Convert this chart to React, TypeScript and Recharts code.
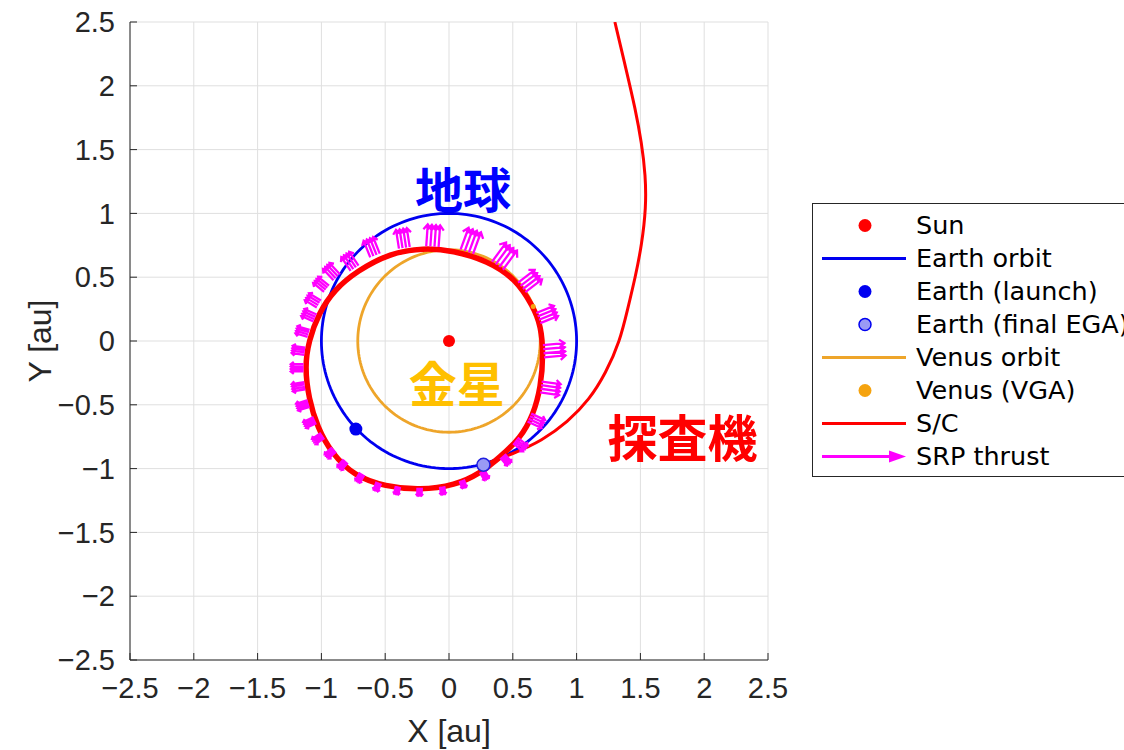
import React from "react"
import {
  ComposedChart,
  Line,
  Scatter,
  XAxis,
  YAxis,
  CartesianGrid,
  Legend,
  Label,
} from "recharts"

// axis ticks (au)
const AXIS_TICKS = [-2.5, -2, -1.5, -1, -0.5, 0, 0.5, 1, 1.5, 2, 2.5]

// planetary orbit radii (au)
const earthOrbitRadius = 1.0
const venusOrbitRadius = 0.715

// event positions (au)
const sunPos = [{ x: 0, y: 0 }]
const earthLaunchPos = [{ x: -0.73, y: -0.69 }]
const earthFinalEgaPos = [{ x: 0.27, y: -0.97 }]
const venusVgaPos = [{ x: 0.66, y: 0.27 }]

// spacecraft: repeated loop inside Earth orbit
const loopX = [0.24, 0.4, 0.56, 0.66, 0.72, 0.74, 0.72, 0.66, 0.52, 0.3, 0.03, -0.2, -0.46, -0.72, -0.9, -1.02, -1.1, -1.13, -1.1, -1.03, -0.92, -0.74, -0.5, -0.23, 0.05, 0.24, 0.4]
const loopY = [-1.04, -0.91, -0.76, -0.58, -0.36, -0.1, 0.12, 0.27, 0.49, 0.63, 0.71, 0.73, 0.69, 0.55, 0.4, 0.22, 0.0, -0.2, -0.45, -0.68, -0.88, -1.06, -1.14, -1.17, -1.13, -1.04, -0.91]

// spacecraft: escape after final Earth swing-by
const escapeX = [0.27, 0.5, 0.73, 0.93, 1.1, 1.23, 1.34, 1.4, 1.46, 1.51, 1.545, 1.54, 1.51, 1.46, 1.39, 1.3]
const escapeY = [-0.97, -0.885, -0.78, -0.635, -0.46, -0.25, 0.0, 0.25, 0.5, 0.75, 1.05, 1.3, 1.55, 1.82, 2.12, 2.5]

// SRP thrust vectors: base point and direction (au)
const thrustX = [-0.13, 0.14, 0.38, 0.57, 0.7, 0.74, 0.72, 0.63, 0.52, 0.42, 0.26, 0.1, -0.054, -0.23, -0.4, -0.55, -0.68, -0.81, -0.9, -0.99, -1.05, -1.1, -1.13, -1.14, -1.13, -1.1, -1.05, -1.02, -0.96, -0.88, -0.74, -0.58, -0.35]
const thrustY = [0.74, 0.7, 0.59, 0.42, 0.18, -0.08, -0.36, -0.6, -0.78, -0.9, -1.02, -1.09, -1.14, -1.15, -1.14, -1.11, -1.04, -0.94, -0.85, -0.74, -0.62, -0.49, -0.35, -0.21, -0.08, 0.06, 0.18, 0.29, 0.41, 0.5, 0.57, 0.67, 0.73]
const thrustU = [0.012, 0.062, 0.11, 0.13, 0.139, 0.169, 0.149, 0.109, 0.079, 0.051, 0.035, 0.019, 0.008, -0.002, -0.013, -0.024, -0.036, -0.048, -0.059, -0.07, -0.082, -0.091, -0.099, -0.1, -0.099, -0.096, -0.096, -0.094, -0.085, -0.082, -0.073, -0.052, -0.023]
const thrustV = [0.17, 0.17, 0.15, 0.1, 0.056, 0.015, -0.021, -0.051, -0.062, -0.061, -0.061, -0.057, -0.059, -0.06, -0.058, -0.06, -0.06, -0.057, -0.054, -0.048, -0.038, -0.028, -0.016, 0, 0.014, 0.028, 0.043, 0.057, 0.069, 0.088, 0.108, 0.13, 0.148]

// annotations
const noteNames = ["地球", "金星", "探査機"]
const noteX = [0.11, 0.06, 1.83]
const noteY = [1.21, -0.31, -0.74]

const legendLabels = ["Sun", "Earth orbit", "Earth (launch)", "Earth (final EGA)", "Venus orbit", "Venus (VGA)", "S/C", "SRP thrust"]

const RED = "#ff0000"
const BLUE = "#0000f0"
const ORANGE = "#eea52a"
const MAGENTA = "#ff00ff"
const EGA_FILL = "#9a9af5"
const VGA_FILL = "#f5a30f"
const AXIS_COLOR = "#262626"

const noteStyles: Record<string, { color: string; size: number }> = {
  "地球": { color: "#0000ff", size: 48 },
  "金星": { color: "#ffc000", size: 48 },
  "探査機": { color: "#ff0000", size: 50 },
}

type Pt = { x: number | null; y: number | null }

const circlePoints = (r: number): Pt[] =>
  Array.from({ length: 181 }, (_, i) => {
    const t = (i / 180) * 2 * Math.PI
    return { x: r * Math.cos(t), y: r * Math.sin(t) }
  })

const zipXY = (xs: number[], ys: number[]): Pt[] => xs.map((x, i) => ({ x, y: ys[i] }))

const earthOrbit = circlePoints(earthOrbitRadius)
const venusOrbit = circlePoints(venusOrbitRadius)
const loopPath = zipXY(loopX, loopY)
const escapePath = zipXY(escapeX, escapeY)
const notes = noteNames.map((name, i) => ({ x: noteX[i], y: noteY[i], name }))

// quiver-style arrows, several side by side per sample (one per revolution)
const ARROWS_PER_BUNDLE = 4
const HEAD_ANGLE = (38 * Math.PI) / 180
function buildThrustSegments(): Pt[] {
  const gap = { x: null, y: null }
  const out: Pt[] = []
  for (let i = 0; i < thrustX.length; i++) {
    const u = thrustU[i]
    const v = thrustV[i]
    const len = Math.hypot(u, v)
    const dx = u / len
    const dy = v / len
    for (let k = 0; k < ARROWS_PER_BUNDLE; k++) {
      const s = (k - (ARROWS_PER_BUNDLE - 1) / 2) * len * 0.19
      const bx = thrustX[i] - dy * s
      const by = thrustY[i] + dx * s
      const tx = bx + u
      const ty = by + v
      out.push({ x: bx, y: by }, { x: tx, y: ty }, gap)
      const h = len * 0.3
      const barb = (a: number) => ({
        x: tx - h * (dx * Math.cos(a) - dy * Math.sin(a)),
        y: ty - h * (dx * Math.sin(a) + dy * Math.cos(a)),
      })
      out.push(barb(HEAD_ANGLE), { x: tx, y: ty }, barb(-HEAD_ANGLE), gap)
    }
  }
  return out
}
const thrustSegments = buildThrustSegments()

const fmtTick = (v: number) => String(v).replace("-", "\u2212")

const dotShape = (fill: string, r: number, stroke = "none") => (p: any) =>
  <circle cx={p.cx} cy={p.cy} r={r} fill={fill} stroke={stroke} strokeWidth={1.5} />

const NoteShape = (p: any) => {
  const st = noteStyles[p.payload.name]
  return (
    <text
      x={p.cx}
      y={p.cy}
      textAnchor="middle"
      dominantBaseline="central"
      fill={st.color}
      fontSize={st.size}
      fontWeight={700}
      fontFamily="'Noto Sans CJK JP', sans-serif"
    >
      {p.payload.name}
    </text>
  )
}

function legendSymbol(i: number) {
  const cy = 16.5
  switch (i) {
    case 0:
      return <circle cx={52} cy={cy} r={6.5} fill={RED} />
    case 1:
      return <line x1={9} x2={93} y1={cy} y2={cy} stroke={BLUE} strokeWidth={3} />
    case 2:
      return <circle cx={52} cy={cy} r={6.5} fill={BLUE} />
    case 3:
      return <circle cx={52} cy={cy} r={6} fill={EGA_FILL} stroke={BLUE} strokeWidth={1.5} />
    case 4:
      return <line x1={9} x2={93} y1={cy} y2={cy} stroke={ORANGE} strokeWidth={3} />
    case 5:
      return <circle cx={52} cy={cy} r={6.5} fill={VGA_FILL} />
    case 6:
      return <line x1={9} x2={93} y1={cy} y2={cy} stroke={RED} strokeWidth={3} />
    default:
      return (
        <g>
          <line x1={9} x2={80} y1={cy} y2={cy} stroke={MAGENTA} strokeWidth={3} />
          <polygon points={`93,${cy} 76,${cy - 6} 76,${cy + 6}`} fill={MAGENTA} />
        </g>
      )
  }
}

const LegendBox = () => (
  <div
    style={{
      border: `1px solid ${AXIS_COLOR}`,
      background: "#fff",
      padding: "5px 0 3px 0",
      width: 420,
      boxSizing: "border-box",
    }}
  >
    {legendLabels.map((label, i) => (
      <div key={label} style={{ display: "flex", alignItems: "center", height: 33 }}>
        <svg width={103} height={33} style={{ flex: "none" }}>
          {legendSymbol(i)}
        </svg>
        <span
          style={{
            fontFamily: "'DejaVu Sans', sans-serif",
            fontSize: 25.5,
            color: "#000",
            whiteSpace: "nowrap",
            lineHeight: "33px",
          }}
        >
          {label}
        </span>
      </div>
    ))}
  </div>
)

const YTitle = (props: any) => {
  const vb = props.viewBox
  const cx = vb.x + 40
  const cy = vb.y + vb.height / 2
  return (
    <text
      x={cx}
      y={cy}
      transform={`rotate(-90 ${cx} ${cy})`}
      textAnchor="middle"
      dominantBaseline="central"
      fill={AXIS_COLOR}
      fontSize={32}
      fontFamily="'Liberation Sans', Arial, sans-serif"
    >
      Y [au]
    </text>
  )
}

export default function App() {
  const tickStyle = { fill: AXIS_COLOR, fontSize: 29, fontFamily: "'Liberation Sans', Arial, sans-serif" }
  return (
    <div style={{ width: 1124, height: 750, overflow: "hidden", position: "relative", background: "#fff" }}>
      <style>{"body{margin:0}"}</style>
      <ComposedChart width={1124} height={750} margin={{ top: 22, right: 356, bottom: 0, left: 0 }}>
        <CartesianGrid stroke="#dfdfdf" strokeWidth={1} />
        <XAxis
          type="number"
          dataKey="x"
          domain={[-2.5, 2.5]}
          ticks={AXIS_TICKS}
          interval={0}
          allowDataOverflow
          height={90}
          tickFormatter={fmtTick}
          tick={tickStyle}
          tickSize={-7}
          tickMargin={24}
          stroke={AXIS_COLOR}
        >
          <Label
            value="X [au]"
            position="insideBottom"
            offset={8}
            fill={AXIS_COLOR}
            fontSize={32}
            fontFamily="'Liberation Sans', Arial, sans-serif"
          />
        </XAxis>
        <YAxis
          type="number"
          dataKey="y"
          domain={[-2.5, 2.5]}
          ticks={AXIS_TICKS}
          interval={0}
          allowDataOverflow
          width={130}
          tickFormatter={fmtTick}
          tick={tickStyle}
          tickSize={-7}
          tickMargin={22}
          stroke={AXIS_COLOR}
        >
          <Label content={YTitle} />
        </YAxis>

        <Scatter data={sunPos} shape={dotShape(RED, 6)} isAnimationActive={false} />
        <Line data={earthOrbit} dataKey="y" type="linear" stroke={BLUE} strokeWidth={2.8} dot={false} activeDot={false} isAnimationActive={false} />
        <Scatter data={earthLaunchPos} shape={dotShape(BLUE, 6.5)} isAnimationActive={false} />
        <Scatter data={earthFinalEgaPos} shape={dotShape(EGA_FILL, 6.5, "#2020e0")} isAnimationActive={false} />
        <Line data={venusOrbit} dataKey="y" type="linear" stroke={ORANGE} strokeWidth={2.8} dot={false} activeDot={false} isAnimationActive={false} />
        <Scatter data={venusVgaPos} shape={dotShape(VGA_FILL, 2.5)} isAnimationActive={false} />
        <Line data={loopPath} dataKey="y" type="basis" stroke={RED} strokeWidth={5.5} dot={false} activeDot={false} isAnimationActive={false} />
        <Line data={escapePath} dataKey="y" type="basis" stroke={RED} strokeWidth={3} dot={false} activeDot={false} isAnimationActive={false} />
        <Line data={thrustSegments} dataKey="y" type="linear" stroke={MAGENTA} strokeWidth={2.3} strokeLinecap="butt" dot={false} activeDot={false} isAnimationActive={false} />
        <Scatter data={notes} shape={NoteShape} isAnimationActive={false} />

        <Legend content={LegendBox} layout="vertical" align="center" verticalAlign="middle" wrapperStyle={{ left: 812, top: 203, width: 420 }} />
      </ComposedChart>
    </div>
  )
}
